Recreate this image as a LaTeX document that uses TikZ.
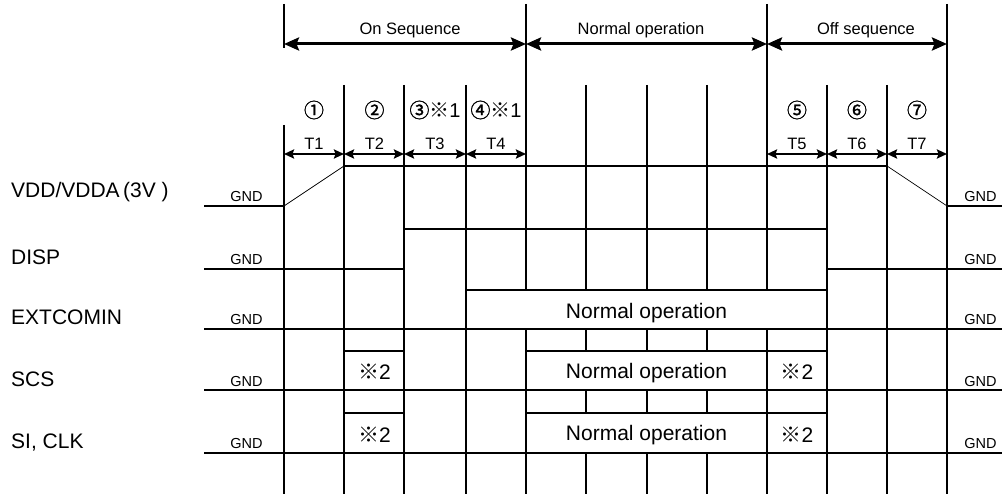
\documentclass[tikz,border=0pt]{standalone}
\usepackage{fontspec}
\setmainfont{Liberation Sans}
\newfontfamily\cjkf{Noto Sans CJK JP}
\newfontfamily\cjkb{Noto Sans CJK JP}[FakeBold=1.2]
\usetikzlibrary{arrows.meta}
\begin{document}
\begin{tikzpicture}[x=1pt,y=-1pt,
  gridline/.style={line width=2.2pt},
  sig/.style={line width=2pt},
  ramp/.style={line width=0.7pt},
  bigarr/.style={line width=3pt,{Stealth[length=15pt,width=13pt,inset=2.5pt]}-{Stealth[length=15pt,width=13pt,inset=2.5pt]}},
  tarr/.style={line width=2.2pt,{Stealth[length=10pt,width=9pt,inset=1.5pt]}-{Stealth[length=10pt,width=9pt,inset=1.5pt]}},
  rowlbl/.style={font=\fontsize{21}{21}\selectfont,anchor=base west,inner sep=0pt},
  gndlbl/.style={font=\fontsize{14.5}{15}\selectfont,anchor=base,inner sep=0pt},
  hdr/.style={font=\fontsize{16.5}{17}\selectfont,anchor=base,inner sep=0pt},
  tlbl/.style={font=\fontsize{16.5}{17}\selectfont,anchor=base,inner sep=0pt},
  circ/.style={font=\fontsize{20}{21}\selectfont,anchor=center,inner sep=0pt},
  boxtxt/.style={font=\fontsize{21}{21}\selectfont,anchor=base,inner sep=0pt},
  databox/.style={draw,fill=white,line width=2pt}
]
\useasboundingbox (0,0) rectangle (1002,494);
% grid columns
\foreach \n/\x/\t in {0/284/125,1/344/85,2/404/85,3/466/85,4/526/4,5/586/85,6/647/85,7/707/85,8/767/4,9/827/85,10/887/85,11/947/4}{
  \coordinate (top\n) at (\x,\t);
  \coordinate (bot\n) at (\x,494);
  \coordinate (h\n) at (\x,44);
  \coordinate (t\n) at (\x,154);
  \draw[gridline] (top\n) -- (bot\n);
}
\coordinate (tick0a) at (284,4);
\coordinate (tick0b) at (284,48);
\draw[gridline] (tick0a) -- (tick0b);
% header arrows
\draw[bigarr] (h0) -- (h4);
\draw[bigarr] (h4) -- (h8);
\draw[bigarr] (h8) -- (h11);
\node[hdr] (hon) at (410,34.5) {On Sequence};
\node[hdr] (hnorm) at (641,34.5) {Normal operation};
\node[hdr] (hoff) at (866,34.5) {Off sequence};
% period arrows
\foreach \a/\b in {0/1,1/2,2/3,3/4,8/9,9/10,10/11}{
  \draw[tarr] (t\a) -- (t\b);
}
\node[tlbl] (T1) at (314,150) {T1};
\node[tlbl] (T2) at (374.5,150) {T2};
\node[tlbl] (T3) at (435,150) {T3};
\node[tlbl] (T4) at (496,150) {T4};
\node[tlbl] (T5) at (797,150) {T5};
\node[tlbl] (T6) at (857,150) {T6};
\node[tlbl] (T7) at (917,150) {T7};
\node[circ] (s1) at (314,110) {\cjkb ①};
\node[circ] (s2) at (374.5,110) {\cjkb ②};
\node[circ] (s3) at (435,110) {\cjkb ③\cjkf ※\fontspec{Liberation Sans}1};
\node[circ] (s4) at (496,110) {\cjkb ④\cjkf ※\fontspec{Liberation Sans}1};
\node[circ] (s5) at (797,110) {\cjkb ⑤};
\node[circ] (s6) at (857,110) {\cjkb ⑥};
\node[circ] (s7) at (917,110) {\cjkb ⑦};
% VDD
\draw[sig] (204,206) -- (284,206);
\draw[ramp] (284,206) -- (344,166);
\draw[sig] (344,166) -- (887,166);
\draw[ramp] (887,166) -- (947,206);
\draw[sig] (947,206) -- (1002,206);
% DISP
\draw[sig] (204,269) -- (404,269) -- (404,229) -- (827,229) -- (827,269) -- (1002,269);
% EXTCOMIN
\draw[sig] (204,329) -- (1002,329);
\draw[databox] (466,290) rectangle (827,329);
\node[boxtxt] (ext) at (646.5,318.3) {Normal operation};
% SCS
\draw[sig] (204,390) -- (1002,390);
\draw[databox] (344,351) rectangle (404,390);
\draw[databox] (526,351) rectangle (767,390);
\draw[databox] (767,351) rectangle (827,390);
\node[boxtxt] (scsa) at (374.5,380) {\cjkf ※\fontspec{Liberation Sans}2};
\node[boxtxt] (scsb) at (646.5,378.5) {Normal operation};
\node[boxtxt] (scsc) at (797,380) {\cjkf ※\fontspec{Liberation Sans}2};
% SI, CLK
\draw[sig] (204,453) -- (1002,453);
\draw[databox] (344,413) rectangle (404,453);
\draw[databox] (526,413) rectangle (767,453);
\draw[databox] (767,413) rectangle (827,453);
\node[boxtxt] (sia) at (374.5,442.7) {\cjkf ※\fontspec{Liberation Sans}2};
\node[boxtxt] (sib) at (646.5,440.7) {Normal operation};
\node[boxtxt] (sic) at (797,442.7) {\cjkf ※\fontspec{Liberation Sans}2};
% row labels
\node[rowlbl] (lvdd) at (11,198) {VDD/VDDA\,(3V\ )};
\node[rowlbl] (ldisp) at (11,265) {DISP};
\node[rowlbl] (lext) at (11,325) {EXTCOMIN};
\node[rowlbl] (lscs) at (11,386.5) {SCS};
\node[rowlbl] (lsi) at (11,448) {SI, CLK};
% GND labels
\foreach \y [count=\i] in {202,265,325,386.5,448}{
  \node[gndlbl] (gl\i) at (246.5,\y) {GND};
  \node[gndlbl] (gr\i) at (980.5,\y) {GND};
}
\end{tikzpicture}
\end{document}
